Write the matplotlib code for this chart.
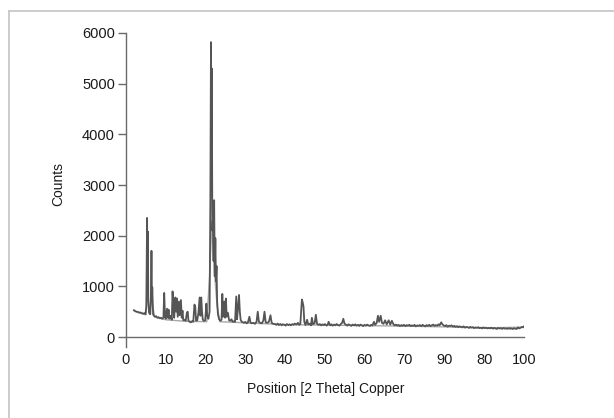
import matplotlib
matplotlib.use("Agg")
import matplotlib.pyplot as plt
from matplotlib.lines import Line2D

# ---- data ----
two_theta = [2.0, 2.3, 2.6, 3.0, 3.3, 3.6, 4.0, 4.3, 4.6, 4.9, 5.1, 5.3, 5.4, 5.5, 5.6, 5.8, 6.1, 6.3, 6.4, 6.5,
             6.6, 6.8, 7.0, 7.3, 7.6, 7.9, 8.2, 8.5, 8.8, 9.1, 9.4, 9.6, 9.8, 10.0, 10.3, 10.5, 10.7, 10.9, 11.2, 11.5,
             11.7, 11.9, 12.1, 12.4, 12.6, 12.8, 13.0, 13.3, 13.5, 13.8, 14.0, 14.2, 14.4, 14.7, 15.0, 15.3, 15.5, 15.7, 16.0, 16.3,
             16.6, 16.9, 17.2, 17.4, 17.6, 17.9, 18.2, 18.5, 18.7, 18.9, 19.1, 19.3, 19.6, 19.9, 20.2, 20.4, 20.7, 21.0, 21.2, 21.35,
             21.45, 21.55, 21.7, 21.85, 22.0, 22.15, 22.3, 22.45, 22.6, 22.75, 22.9, 23.1, 23.4, 23.7, 24.0, 24.2, 24.4, 24.7, 24.9, 25.1,
             25.3, 25.6, 25.9, 26.2, 26.5, 26.8, 27.1, 27.4, 27.7, 27.9, 28.2, 28.4, 28.6, 28.8, 29.1, 29.4, 29.7, 30.0, 30.3, 30.6,
             31.0, 31.3, 31.6, 32.0, 32.4, 32.8, 33.1, 33.4, 33.7, 34.1, 34.5, 34.8, 35.1, 35.5, 35.9, 36.3, 36.6, 37.0, 37.4, 37.8,
             38.1, 38.4, 38.8, 39.1, 39.4, 39.8, 40.1, 40.4, 40.8, 41.1, 41.4, 41.8, 42.1, 42.4, 42.8, 43.2, 43.5, 43.8, 44.0, 44.2,
             44.4, 44.6, 44.8, 45.1, 45.5, 45.8, 46.2, 46.5, 46.7, 47.0, 47.4, 47.7, 48.0, 48.4, 48.7, 49.0, 49.4, 49.7, 50.0, 50.4,
             50.7, 50.9, 51.3, 51.6, 51.9, 52.3, 52.6, 52.9, 53.3, 53.6, 53.9, 54.3, 54.6, 54.9, 55.3, 55.6, 55.9, 56.3, 56.6, 56.9,
             57.3, 57.6, 57.9, 58.3, 58.6, 58.9, 59.3, 59.6, 59.9, 60.3, 60.6, 60.9, 61.3, 61.6, 61.9, 62.3, 62.6, 63.0, 63.3, 63.6,
             64.0, 64.3, 64.7, 65.1, 65.5, 66.0, 66.4, 66.8, 67.2, 67.5, 67.8, 68.2, 68.5, 68.8, 69.2, 69.5, 69.8, 70.2, 70.5, 70.8,
             71.2, 71.5, 71.8, 72.2, 72.5, 72.8, 73.2, 73.5, 73.8, 74.2, 74.5, 74.8, 75.2, 75.5, 75.8, 76.2, 76.5, 76.8, 77.2, 77.5,
             77.8, 78.2, 78.5, 78.8, 79.2, 79.5, 79.8, 80.2, 80.5, 80.8, 81.2, 81.5, 81.8, 82.2, 82.5, 82.8, 83.2, 83.5, 83.8, 84.2,
             84.5, 84.8, 85.2, 85.5, 85.8, 86.2, 86.5, 86.8, 87.2, 87.5, 87.8, 88.2, 88.5, 88.8, 89.2, 89.5, 89.8, 90.2, 90.5, 90.8,
             91.2, 91.5, 91.8, 92.2, 92.5, 92.8, 93.2, 93.5, 93.8, 94.2, 94.5, 94.8, 95.2, 95.5, 95.8, 96.2, 96.5, 96.8, 97.2, 97.5,
             97.8, 98.2, 98.5, 98.8, 99.2, 99.5, 99.8, 100.0]
counts = [530, 510, 500, 495, 480, 485, 470, 460, 470, 450, 600, 2350, 900, 2080, 700, 480, 450, 900, 1700, 700,
          980, 450, 420, 400, 410, 380, 390, 370, 380, 360, 380, 870, 400, 360, 560, 380, 540, 360, 420, 340,
          900, 600, 380, 780, 500, 760, 400, 700, 430, 730, 380, 520, 330, 340, 320, 480, 500, 320, 300, 290,
          310, 300, 640, 600, 320, 330, 480, 780, 420, 780, 500, 340, 320, 330, 660, 420, 360, 500, 2750, 5820,
          3000, 5300, 2100, 2350, 1500, 2700, 1200, 1950, 1100, 1400, 700, 450, 350, 320, 340, 850, 400, 700, 380, 760,
          400, 480, 330, 320, 350, 300, 310, 300, 800, 350, 620, 830, 500, 340, 300, 290, 280, 300, 270, 280,
          400, 280, 270, 280, 260, 300, 500, 300, 280, 270, 320, 500, 290, 280, 300, 430, 280, 260, 255, 240,
          265, 235, 255, 230, 250, 240, 225, 255, 235, 250, 230, 255, 240, 265, 245, 280, 240, 255, 500, 740,
          680, 600, 300, 235, 340, 245, 265, 230, 380, 250, 275, 440, 260, 240, 255, 230, 250, 235, 255, 225,
          245, 300, 230, 250, 225, 245, 230, 255, 235, 225, 250, 280, 360, 265, 240, 225, 250, 235, 220, 245,
          230, 250, 225, 240, 220, 245, 230, 215, 240, 225, 245, 230, 220, 240, 225, 300, 240, 280, 420, 300,
          420, 280, 260, 330, 250, 330, 245, 320, 250, 230, 245, 225, 240, 215, 235, 220, 240, 215, 235, 225,
          240, 215, 230, 220, 240, 210, 230, 220, 235, 215, 240, 225, 210, 235, 220, 240, 215, 230, 245, 220,
          235, 225, 250, 230, 290, 250, 230, 215, 235, 205, 225, 215, 230, 205, 220, 200, 215, 195, 210, 200,
          190, 210, 185, 200, 195, 180, 200, 185, 195, 175, 190, 180, 195, 175, 185, 170, 190, 175, 185, 170,
          180, 170, 185, 165, 180, 170, 160, 180, 168, 175, 160, 178, 165, 172, 160, 175, 162, 170, 158, 172,
          165, 160, 190, 170, 185, 200, 190, 210]

bg_theta = [2.0, 4.0, 5.0, 5.4, 5.9, 6.5, 7.2, 10.0, 15.0, 20.3, 21.0, 21.6, 22.2, 22.9, 23.6, 30.0, 40.0, 50.0, 60.0, 70.0, 80.0, 90.0, 100.0]
bg_counts = [520, 460, 440, 950, 450, 720, 400, 340, 310, 302, 1200, 2300, 1300, 600, 302, 280, 245, 235, 225, 215, 200, 180, 195]

tick_pos = [0, 10, 20, 30, 40, 50, 60, 70, 80, 90, 100]
tick_labels = ["0", "10", "20", "30", "40", "50", "60", "70", "90", "80", "100"]
y_ticks = [0, 1000, 2000, 3000, 4000, 5000, 6000]

plt.rcParams['font.family'] = ['Liberation Sans', 'DejaVu Sans']
FS = 10

W, H = 614, 418
fig = plt.figure(figsize=(W / 100, H / 100), dpi=100)
fig.patch.set_facecolor("white")

# frame lines (left and top of the picture border)
fig.add_artist(Line2D([8.5 / W, 8.5 / W], [0, 1 - 10.5 / H], transform=fig.transFigure, color="#c4c4c4", lw=1.2))
fig.add_artist(Line2D([8.5 / W, 1], [1 - 10.5 / H, 1 - 10.5 / H], transform=fig.transFigure, color="#c4c4c4", lw=1.2))

left, right, top, bottom = 126, 524, 33, 347
ax = fig.add_axes([left / W, 1 - bottom / H, (right - left) / W, (bottom - top) / H])

ax.plot(bg_theta, bg_counts, color="#a8a8a8", lw=1.0, zorder=2)
ax.plot(two_theta, counts, color="#555555", lw=1.3, zorder=3)

ax.set_xlim(0, 100)
ax.set_ylim(-197, 6000)

for s in ["top", "right"]:
    ax.spines[s].set_visible(False)
ax.spines["bottom"].set_position(("data", 0))
ax.spines["left"].set_color("#6a6a6a")
ax.spines["bottom"].set_color("#6a6a6a")
ax.spines["left"].set_linewidth(1.0)
ax.spines["bottom"].set_linewidth(1.0)

ax.set_yticks(y_ticks)
ax.set_yticklabels([str(v) for v in y_ticks])
ax.tick_params(axis="y", direction="out", length=6, width=1, color="#6a6a6a", pad=2, labelsize=FS + 0.5, labelcolor="#1a1a1a")

ax.set_xticks(tick_pos)
ax.set_xticklabels(tick_labels)
ax.tick_params(axis="x", length=0, pad=11.5, labelsize=FS + 0.5, labelcolor="#1a1a1a")

ax.set_ylabel("Counts", fontsize=FS, color="#1a1a1a")
ax.set_xlabel("Position [2 Theta] Copper", fontsize=FS, color="#1a1a1a")
ax.yaxis.label.set_va("center")
ax.xaxis.label.set_va("center")
ax.yaxis.set_label_coords((58 - left) / (right - left), 0.52)
ax.xaxis.set_label_coords(0.502, (bottom - 389) / (bottom - top))

fig.savefig("out.png", dpi=100, facecolor="white")
